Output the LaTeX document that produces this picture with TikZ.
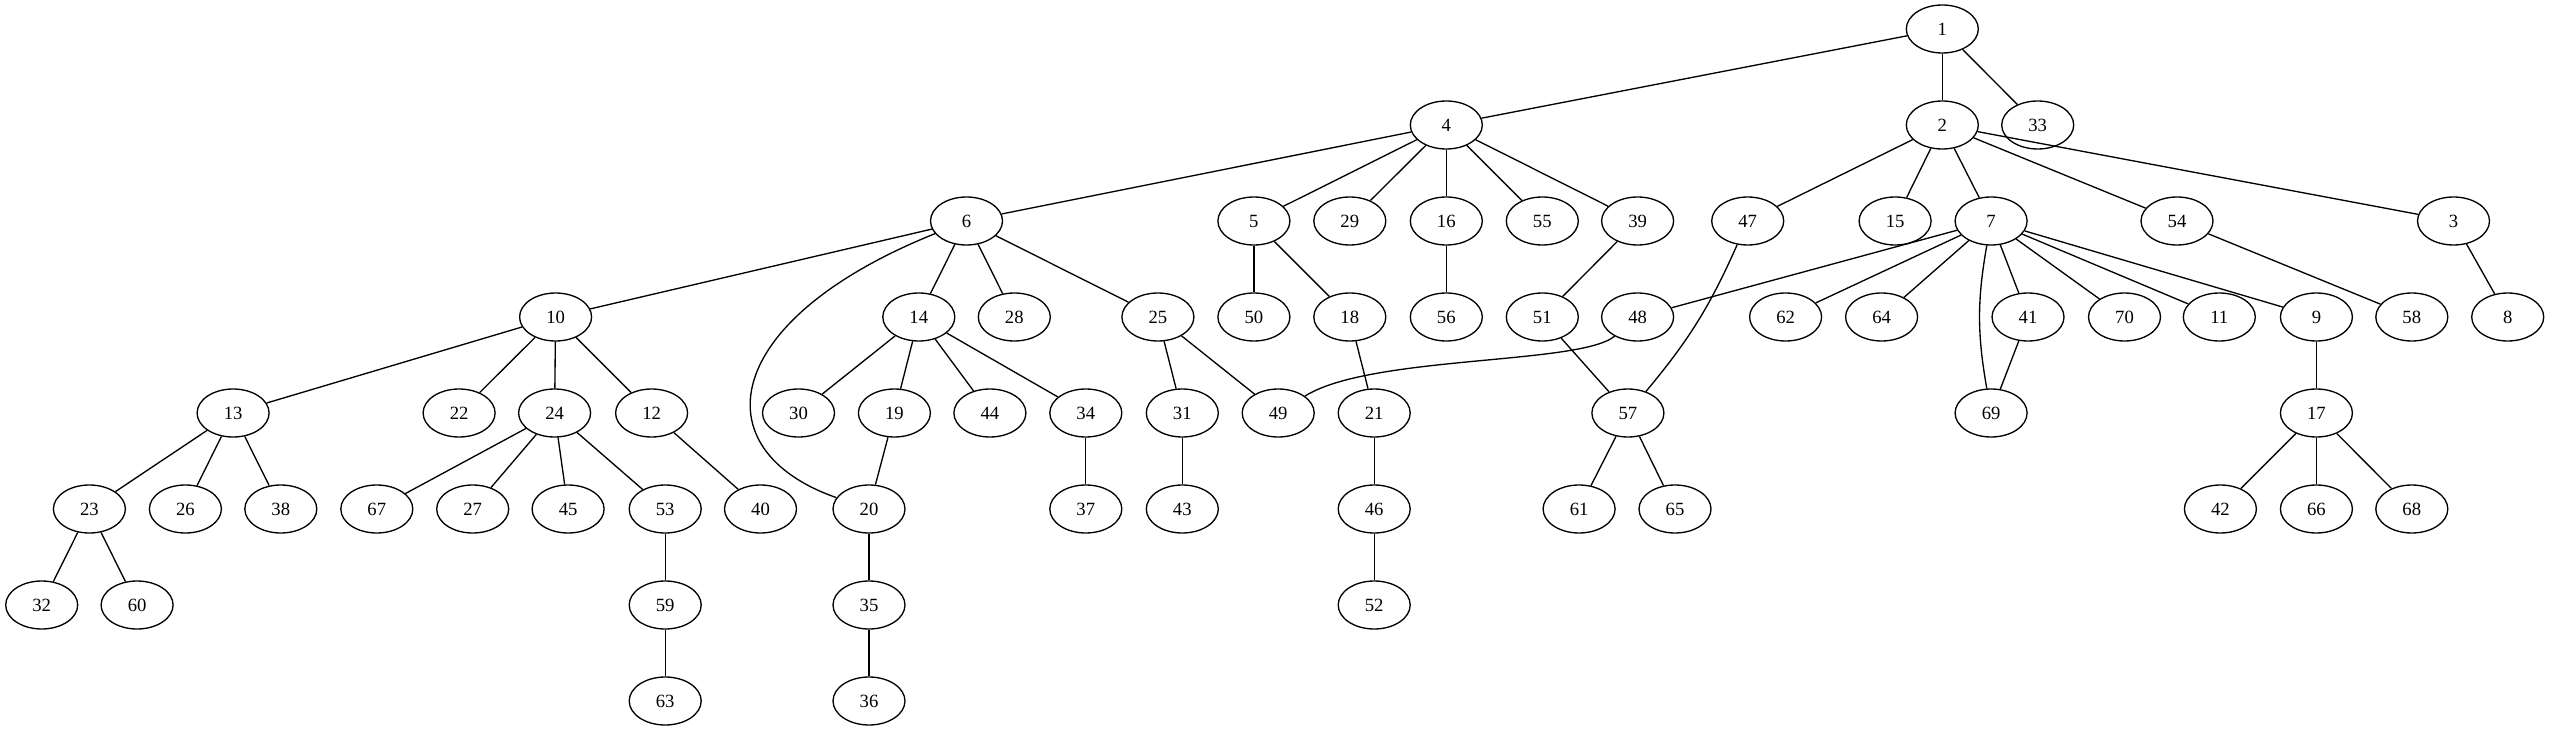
\documentclass[tikz,border=0pt]{standalone}
\usepackage{fontspec}
\setmainfont{Liberation Serif}
\usetikzlibrary{shapes.geometric}

\begin{document}
\begin{tikzpicture}[x=0.75pt, y=-0.75pt,
    vertex/.style={draw, ellipse, line width=1pt, minimum width=54pt, minimum height=36pt, inner sep=0pt, font=\fontsize{14pt}{16pt}\selectfont},
    link/.style={line width=1pt}]
    \useasboundingbox (0,0) rectangle (2549,731);

    % Level 0
    \node[vertex] (n1) at (1942.3, 29) {1};
    % Level 1
    \foreach \n/\x in {4/1446.3, 2/1942.3, 33/2037.7} \node[vertex] (n\n) at (\x, 125) {\n};
    % Level 2
    \foreach \n/\x in {6/966.5, 5/1253.9, 29/1349.8, 16/1446.3, 55/1542.3, 39/1637.6, 47/1747.7, 15/1895.1, 7/1991.1, 54/2177, 3/2453.5}
        \node[vertex] (n\n) at (\x, 221) {\n};
    % Level 3
    \foreach \n/\x in {10/555.6, 14/918.8, 28/1014.3, 25/1157.9, 50/1253.9, 18/1349.8, 56/1446.3, 51/1542.3, 48/1637.6, 62/1785.6, 64/1881.6, 41/2028, 70/2124.5, 11/2219.3, 9/2316.4, 58/2411.8, 8/2507.7}
        \node[vertex] (n\n) at (\x, 317) {\n};
    % Level 4
    \foreach \n/\x in {13/233.1, 22/459.1, 24/554.6, 12/651.6, 30/798.5, 19/894.4, 44/989.9, 34/1085.8, 31/1182.3, 49/1278.2, 21/1374.2, 57/1627.9, 69/1991.1, 17/2316.4}
        \node[vertex] (n\n) at (\x, 413) {\n};
    % Level 5
    \foreach \n/\x in {23/89.4, 26/185.4, 38/280.8, 67/376.8, 27/472.7, 45/568.1, 53/665.2, 40/760.5, 20/869, 37/1085.8, 43/1182.3, 46/1374.2, 61/1579.1, 65/1675, 42/2220.4, 66/2316.4, 68/2411.8}
        \node[vertex] (n\n) at (\x, 509) {\n};
    % Level 6
    \foreach \n/\x in {32/41.7, 60/137.1, 59/665.2, 35/869, 52/1374.2} \node[vertex] (n\n) at (\x, 605) {\n};
    % Level 7
    \foreach \n/\x in {63/665.2, 36/869} \node[vertex] (n\n) at (\x, 701) {\n};

    % Straight edges
    \foreach \a/\b in {1/4, 1/2, 1/33, 4/6, 4/5, 4/29, 4/16, 4/55, 4/39, 2/47, 2/15, 2/7, 2/54, 2/3,
        6/10, 6/14, 6/28, 6/25, 5/50, 5/18, 16/56, 39/51, 7/48, 7/62, 7/64, 7/41, 7/70, 7/11, 7/9,
        54/58, 3/8, 10/13, 10/22, 10/24, 10/12, 14/30, 14/19, 14/44, 14/34, 25/31, 25/49, 18/21,
        51/57, 41/69, 9/17, 13/23, 13/26, 13/38, 24/67, 24/27, 24/45, 24/53, 12/40, 19/20, 34/37,
        31/43, 21/46, 57/61, 57/65, 17/42, 17/66, 17/68, 23/32, 23/60, 53/59, 20/35, 46/52, 59/63, 35/36}
        \draw[link] (n\a) -- (n\b);

    % Curved edges
    \draw[link] (n6) .. controls (720,320) and (700,450) .. (n20);
    \draw[link] (n48) .. controls (1580,365) and (1370,355) .. (n49);
    \draw[link] (n47) to[bend left=8] (n57);
    \draw[link] (n7) to[bend right=10] (n69);
\end{tikzpicture}
\end{document}
